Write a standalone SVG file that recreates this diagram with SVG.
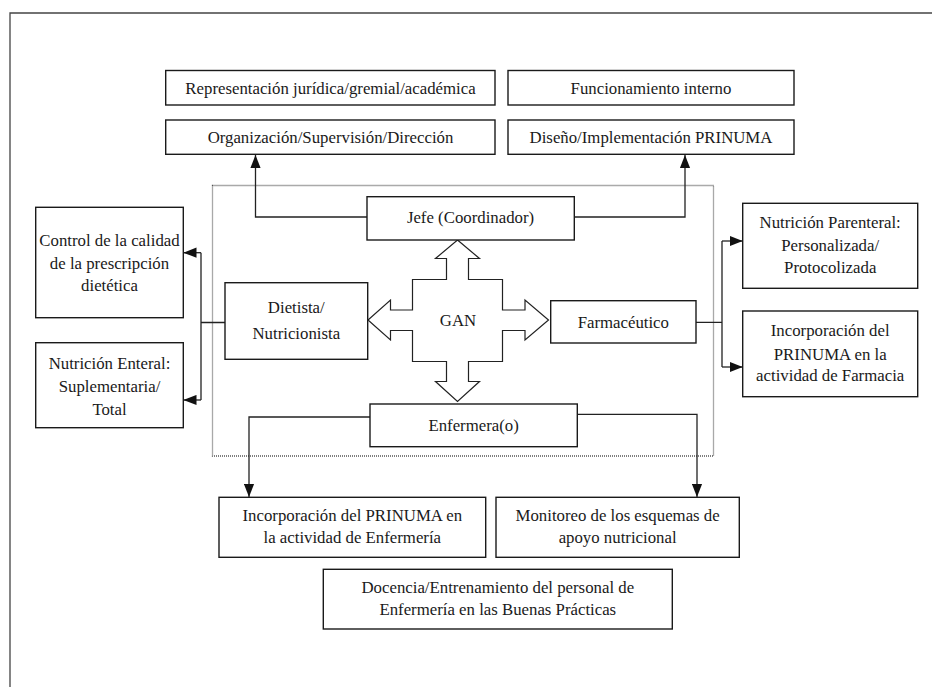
<svg xmlns="http://www.w3.org/2000/svg" width="932" height="687" viewBox="0 0 932 687">
  <defs>
    <marker id="arr" markerUnits="userSpaceOnUse" markerWidth="13" markerHeight="11" viewBox="0 0 12 10" refX="12" refY="5" orient="auto">
      <path d="M0,0.3 L12,5 L0,9.7 Z" fill="#111"/>
    </marker>
    <style>
      .box{fill:#fff;stroke:#1a1a1a;stroke-width:1.4}
      .t{font-family:"Liberation Serif","Times New Roman",Times,serif;font-size:16.8px;fill:#1a1a1a;text-anchor:middle}
      .c{fill:none;stroke:#222;stroke-width:1.3}
      .ca{fill:none;stroke:#222;stroke-width:1.3;marker-end:url(#arr)}
    </style>
  </defs>
  <rect width="932" height="687" fill="#fff"/>
  <path d="M10,700 L10,13 L940,13" fill="none" stroke="#444" stroke-width="1.3"/>
  <rect id="gan-frame" x="212.5" y="185.5" width="501" height="270.5" fill="none" stroke="#555" stroke-width="1.3" stroke-dasharray="1 1"/>

  <g id="connectors">
    <path class="ca" d="M367,217 L255.5,217 L255.5,155"/>
    <path class="ca" d="M574,217 L685,217 L685,155"/>
    <path class="c" d="M225,322.5 L201,322.5 M201,252.7 L201,400"/>
    <path class="ca" d="M201,252.7 L183.5,252.7"/>
    <path class="ca" d="M201,400 L183.5,400"/>
    <path class="c" d="M696,322.3 L722,322.3 M722,241 L722,367"/>
    <path class="ca" d="M722,241 L742.7,241"/>
    <path class="ca" d="M722,367 L742.7,367"/>
    <path class="ca" d="M370,417 L249,417 L249,497"/>
    <path class="ca" d="M577.3,414.3 L697,414.3 L697,497"/>
  </g>

  <g id="gan">
    <path d="M457.5,240 L479.5,258.5 L468.5,258.5 L468.5,279.5 L502.5,279.5 L502.5,310 L525,310 L525,300 L548.5,320 L525,340 L525,330.5 L502.5,330.5 L502.5,361.5 L468.5,361.5 L468.5,381.5 L479.5,381.5 L457.5,401.5 L435.5,381.5 L446.5,381.5 L446.5,361.5 L412.5,361.5 L412.5,330.5 L390.5,330.5 L390.5,340 L368,320 L390.5,300 L390.5,310 L412.5,310 L412.5,279.5 L446.5,279.5 L446.5,258.5 L435.5,258.5 Z" fill="#fff" stroke="#222" stroke-width="1.2"/>
    <text class="t" x="458" y="326">GAN</text>
  </g>

  <g id="representacion">
    <rect class="box" x="165.7" y="70.5" width="329.3" height="34.5"/>
    <text class="t" x="330.5" y="93.5">Representación jurídica/gremial/académica</text>
  </g>
  <g id="funcionamiento">
    <rect class="box" x="508" y="70.5" width="286" height="34.5"/>
    <text class="t" x="651" y="93.5">Funcionamiento interno</text>
  </g>
  <g id="organizacion">
    <rect class="box" x="165.7" y="120" width="329.3" height="34.3"/>
    <text class="t" x="330.5" y="143.3">Organización/Supervisión/Dirección</text>
  </g>
  <g id="diseno">
    <rect class="box" x="508" y="120" width="286" height="34.3"/>
    <text class="t" x="651" y="143.3">Diseño/Implementación PRINUMA</text>
  </g>

  <g id="jefe">
    <rect class="box" x="367" y="196.7" width="207.3" height="43.3"/>
    <text class="t" x="470.5" y="223">Jefe (Coordinador)</text>
  </g>
  <g id="dietista">
    <rect class="box" x="225" y="282.7" width="142.7" height="76.6"/>
    <text class="t" x="296.3" y="313">Dietista/</text>
    <text class="t" x="296.3" y="339">Nutricionista</text>
  </g>
  <g id="farmaceutico">
    <rect class="box" x="550.7" y="300.7" width="145.3" height="42.3"/>
    <text class="t" x="623.3" y="327.5">Farmacéutico</text>
  </g>
  <g id="enfermera">
    <rect class="box" x="370" y="404" width="207.3" height="42.7"/>
    <text class="t" x="473.6" y="431">Enfermera(o)</text>
  </g>

  <g id="control">
    <rect class="box" x="35.7" y="207.3" width="147.6" height="110.4"/>
    <text class="t" x="109.5" y="246">Control de la calidad</text>
    <text class="t" x="109.5" y="268.5">de la prescripción</text>
    <text class="t" x="109.5" y="291">dietética</text>
  </g>
  <g id="enteral">
    <rect class="box" x="35.7" y="342.7" width="147.6" height="85"/>
    <text class="t" x="109.5" y="369">Nutrición Enteral:</text>
    <text class="t" x="109.5" y="392">Suplementaria/</text>
    <text class="t" x="109.5" y="414.5">Total</text>
  </g>

  <g id="parenteral">
    <rect class="box" x="742.7" y="203.3" width="175" height="85"/>
    <text class="t" x="830.2" y="227.5">Nutrición Parenteral:</text>
    <text class="t" x="830.2" y="251">Personalizada/</text>
    <text class="t" x="830.2" y="273">Protocolizada</text>
  </g>
  <g id="farmacia">
    <rect class="box" x="742.7" y="311" width="175" height="85.7"/>
    <text class="t" x="830.2" y="336">Incorporación del</text>
    <text class="t" x="830.2" y="359.5">PRINUMA en la</text>
    <text class="t" x="830.2" y="381">actividad de Farmacia</text>
  </g>

  <g id="inc-enfermeria">
    <rect class="box" x="219" y="497.3" width="266.7" height="60"/>
    <text class="t" x="352.3" y="521">Incorporación del PRINUMA en</text>
    <text class="t" x="352.3" y="543">la actividad de Enfermería</text>
  </g>
  <g id="monitoreo">
    <rect class="box" x="496" y="497.3" width="243.3" height="60"/>
    <text class="t" x="617.6" y="521">Monitoreo de los esquemas de</text>
    <text class="t" x="617.6" y="543">apoyo nutricional</text>
  </g>
  <g id="docencia">
    <rect class="box" x="323.3" y="569.3" width="349" height="59.7"/>
    <text class="t" x="497.8" y="593">Docencia/Entrenamiento del personal de</text>
    <text class="t" x="497.8" y="615">Enfermería en las Buenas Prácticas</text>
  </g>
</svg>
